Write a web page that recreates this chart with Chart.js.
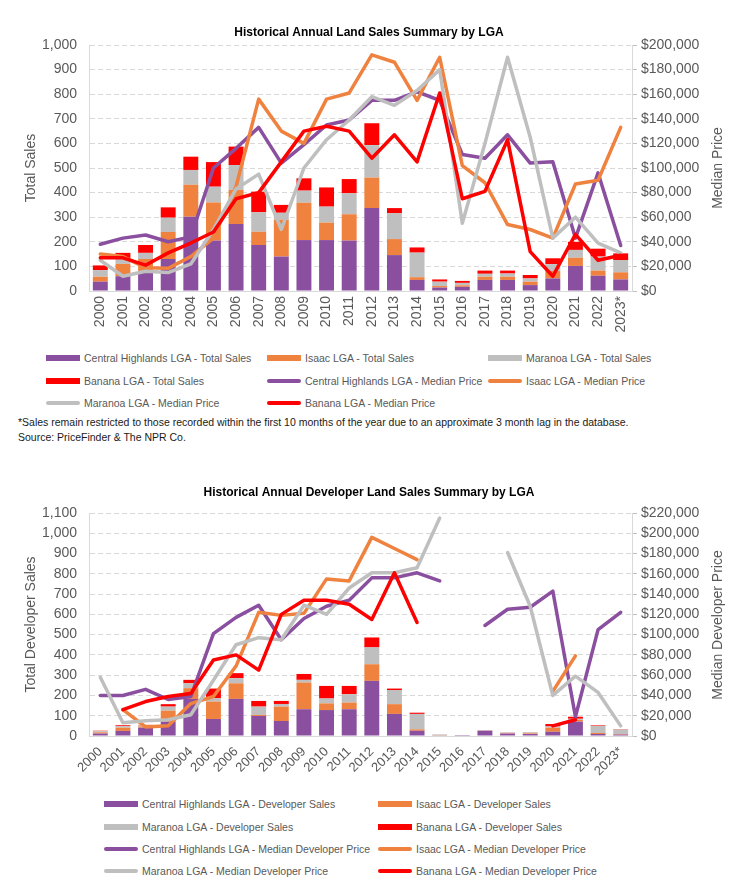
<!DOCTYPE html>
<html>
<head>
<meta charset="utf-8">
<script src="https://cdn.jsdelivr.net/npm/chart.js@4.4.0/dist/chart.umd.min.js"></script>
<style>
  body { margin: 0; background: #fff; width: 738px; height: 877px; position: relative; overflow: hidden;
         font-family: 'Liberation Sans', Arial, sans-serif; color: #595959; }
  canvas { position: absolute; left: 0; }
  .legend-item { position: absolute; font-size: 10.5px; white-space: nowrap; height: 14px; display: flex; align-items: center; }
  .swatch { display: inline-block; width: 34px; margin-right: 4px; }
  .right-title { position: absolute; font-size: 14px; white-space: nowrap; transform: translate(-50%, -50%) rotate(-90deg); }
  .note { position: absolute; left: 18px; font-size: 10.5px; white-space: nowrap; color: #1a1a1a; }
</style>
</head>
<body>
<canvas id="land-chart" width="738" height="345" style="top:0"></canvas>
<canvas id="dev-chart" width="738" height="330" style="top:460px"></canvas>
<div class="note" style="top:416px">*Sales remain restricted to those recorded within the first 10 months of the year due to an approximate 3 month lag in the database.</div>
<div class="note" style="top:431px">Source: PriceFinder &amp; The NPR Co.</div>

<script>
// Years on the x axis (both charts)
const years = ['2000', '2001', '2002', '2003', '2004', '2005', '2006', '2007', '2008', '2009', '2010', '2011',
  '2012', '2013', '2014', '2015', '2016', '2017', '2018', '2019', '2020', '2021', '2022', '2023*'];

// Chart 1 - total land sales (stacked bars)
const chSales      = [38, 60, 80, 130, 302, 205, 272, 187, 140, 207, 207, 205, 337, 146, 45, 14, 17, 45, 45, 24, 51, 102, 62, 47];
const isaacSales   = [20, 50, 50, 110, 130, 155, 139, 54, 150, 152, 71, 107, 124, 65, 11, 6, 6, 13, 13, 14, 30, 33, 21, 29];
const maranoaSales = [27, 20, 25, 58, 60, 64, 101, 79, 28, 49, 65, 85, 132, 105, 100, 18, 10, 12, 13, 13, 28, 32, 57, 50];
const bananaSales  = [19, 25, 32, 42, 54, 100, 75, 84, 32, 50, 78, 58, 89, 21, 21, 9, 8, 13, 12, 14, 24, 33, 32, 27];

// Chart 1 - median price lines
const chPrice      = [38000, 43000, 45500, 40000, 44000, 100000, 116000, 133000, 104000, 119000, 135000, 139000,
  155000, 155000, 162000, 155000, 111000, 108000, 127000, 104000, 105000, 43000, 96000, 37000];
const isaacPrice   = [30000, 28000, 19000, 18400, 28000, 43000, 85000, 156000, 130000, 120000, 156000, 161000,
  192000, 186000, 155000, 190000, 102000, 88000, 54000, 50000, 43000, 87000, 90000, 133000];
const maranoaPrice = [25000, 12000, 16000, 15000, 22000, 50000, 83000, 95000, 50000, 100000, 123000, 139000,
  158000, 151000, 163000, 180000, 55000, 120000, 190000, 125000, 43000, 60000, 39000, 31000];
const bananaPrice  = [27000, 27000, 21000, 31000, 39000, 48000, 75000, 80000, 105000, 130000, 134000, 130000,
  108000, 127000, 105000, 161000, 75000, 81000, 123000, 32000, 12000, 46000, 25000, 29000];

// Chart 2 - developer land sales (stacked bars)
const chDevSales      = [12, 25, 41, 71, 183, 84, 183, 99, 74, 132, 128, 132, 272, 109, 26, 2, 1, 26, 12, 10, 21, 71, 10, 7];
const isaacDevSales   = [6, 16, 6, 54, 53, 86, 77, 5, 71, 132, 33, 33, 82, 48, 7, 1, 0, 1, 2, 3, 20, 8, 5, 3];
const maranoaDevSales = [6, 8, 5, 20, 24, 16, 25, 41, 13, 13, 24, 41, 83, 70, 76, 5, 2, 2, 3, 5, 6, 6, 35, 22];
const bananaDevSales  = [2, 4, 3, 12, 17, 48, 25, 28, 15, 29, 62, 41, 49, 7, 6, 0, 0, 0, 1, 1, 12, 10, 3, 2];

// Chart 2 - median developer price lines (null = no sales that year)
const chDevPrice      = [40000, 40000, 46000, 36000, 39000, 101000, 117000, 129000, 95000, 116000, 128000, 134000,
  156000, 156000, 161000, 153000, null, 109000, 125000, 127000, 143000, 19000, 105000, 122000];
const isaacDevPrice   = [null, 26000, 9000, 10000, 32000, 39000, 69000, 122000, 119000, 121000, 155000, 153000,
  196000, 185000, 174000, null, null, null, null, null, 44000, 79000, null, null];
const maranoaDevPrice = [58000, 13000, 15000, 16000, 21000, 55000, 90000, 97000, 95000, 129000, 120000, 146000,
  161000, 161000, 166000, 215000, null, null, 181000, 128000, 40000, 59000, 43000, 10000];
const bananaDevPrice  = [null, 26000, 34000, 39000, 42000, 75000, 80000, 65000, 120000, 134000, 134000, 130000,
  115000, 161000, 112000, null, null, null, null, null, 10000, 16000, null, null];

const PURPLE = '#8B4F9F';
const ORANGE = '#F0823F';
const GREY = '#BFBFBF';
const RED = '#FF0000';
const FONT = "'Liberation Sans', Arial, sans-serif";
const TEXT = '#595959';

function barSet(label, data, color) {
  return { type: 'bar', label: label, data: data, backgroundColor: color, yAxisID: 'y',
    stack: 'sales', order: 10, categoryPercentage: 1, barPercentage: 0.66 };
}

// lower order = drawn on top, so red ends up last like the original
function lineSet(label, data, color, order) {
  return { type: 'line', label: label, data: data, borderColor: color, backgroundColor: color,
    borderWidth: 3.5, pointRadius: 0, tension: 0, yAxisID: 'y1', order: order,
    borderCapStyle: 'round', borderJoinStyle: 'round', spanGaps: false };
}

function money(v) {
  return '$' + v.toLocaleString('en-US');
}

function makeChart(canvasId, opts) {
  return new Chart(document.getElementById(canvasId), {
    data: { labels: years, datasets: opts.datasets },
    options: {
      responsive: false,
      animation: false,
      layout: { padding: 0 },
      plugins: {
        legend: { display: false },
        tooltip: { enabled: false },
        title: {
          display: true,
          text: opts.title,
          color: '#000',
          font: { family: FONT, size: 12, weight: 'bold' },
          padding: opts.titlePadding
        }
      },
      scales: {
        x: {
          stacked: true,
          grid: { display: false, drawTicks: false },
          border: { color: '#D9D9D9' },
          ticks: {
            color: TEXT, font: { family: FONT, size: opts.xFontSize },
            minRotation: opts.rotation, maxRotation: opts.rotation,
            autoSkip: false, padding: opts.xPadding
          },
          afterFit: (scale) => { scale.height = opts.xHeight; }
        },
        y: {
          stacked: true,
          position: 'left',
          min: 0, max: opts.yMax,
          ticks: {
            stepSize: 100, color: TEXT, font: { family: FONT, size: 14 }, padding: 12,
            callback: (v) => v.toLocaleString('en-US')
          },
          grid: { color: '#D9D9D9', drawTicks: false },
          border: { color: '#D9D9D9', dash: [5, 3] },
          title: {
            display: true, text: opts.yTitle, color: TEXT,
            font: { family: FONT, size: 14 }, padding: { top: 22.6, bottom: 0 }
          },
          afterFit: (scale) => { scale.width = 89; }
        },
        y1: {
          position: 'right',
          min: 0, max: opts.y1Max,
          ticks: {
            stepSize: 20000, color: TEXT, font: { family: FONT, size: 14 }, padding: 4,
            callback: (v) => money(v)
          },
          grid: { drawOnChartArea: false, tickLength: 5, tickColor: '#BFBFBF' },
          border: { color: '#D9D9D9' },
          afterFit: (scale) => { scale.width = 106; }
        }
      }
    }
  });
}

const landChart = makeChart('land-chart', {
  title: 'Historical Annual Land Sales Summary by LGA',
  titlePadding: { top: 25, bottom: 5.6 },
  yTitle: 'Total Sales',
  yMax: 1000,
  y1Max: 200000,
  rotation: 90,
  xFontSize: 14,
  xPadding: 5,
  xHeight: 54,
  datasets: [
    barSet('Central Highlands LGA - Total Sales', chSales, PURPLE),
    barSet('Isaac LGA - Total Sales', isaacSales, ORANGE),
    barSet('Maranoa LGA - Total Sales', maranoaSales, GREY),
    barSet('Banana LGA - Total Sales', bananaSales, RED),
    lineSet('Central Highlands LGA - Median Price', chPrice, PURPLE, 4),
    lineSet('Isaac LGA - Median Price', isaacPrice, ORANGE, 3),
    lineSet('Maranoa LGA - Median Price', maranoaPrice, GREY, 2),
    lineSet('Banana LGA - Median Price', bananaPrice, RED, 1)
  ]
});

const devChart = makeChart('dev-chart', {
  title: 'Historical Annual Developer Land Sales Summary by LGA',
  titlePadding: { top: 25.8, bottom: 12.8 },
  yTitle: 'Total Developer Sales',
  yMax: 1100,
  y1Max: 220000,
  rotation: 45,
  xFontSize: 13,
  xPadding: 8,
  xHeight: 54,
  datasets: [
    barSet('Central Highlands LGA - Developer Sales', chDevSales, PURPLE),
    barSet('Isaac LGA - Developer Sales', isaacDevSales, ORANGE),
    barSet('Maranoa LGA - Developer Sales', maranoaDevSales, GREY),
    barSet('Banana LGA - Developer Sales', bananaDevSales, RED),
    lineSet('Central Highlands LGA - Median Developer Price', chDevPrice, PURPLE, 4),
    lineSet('Isaac LGA - Median Developer Price', isaacDevPrice, ORANGE, 3),
    lineSet('Maranoa LGA - Median Developer Price', maranoaDevPrice, GREY, 2),
    lineSet('Banana LGA - Median Developer Price', bananaDevPrice, RED, 1)
  ]
});

// HTML legend built from the chart's datasets, laid out in a grid like the original
function buildLegend(chart, columns, rows) {
  chart.data.datasets.forEach((ds, i) => {
    const item = document.createElement('div');
    item.className = 'legend-item';
    item.style.left = columns[i % columns.length] + 'px';
    item.style.top = (rows[Math.floor(i / columns.length)] - 7) + 'px';
    const sw = document.createElement('span');
    sw.className = 'swatch';
    sw.style.background = ds.type === 'bar' ? ds.backgroundColor : ds.borderColor;
    if (ds.type === 'bar') {
      sw.style.height = '6px';
    } else {
      sw.style.height = '4px';
      sw.style.borderRadius = '2px';
    }
    item.appendChild(sw);
    item.appendChild(document.createTextNode(ds.label));
    document.body.appendChild(item);
  });
}

buildLegend(landChart, [46, 267, 488], [358, 381, 403]);
buildLegend(devChart, [104, 378], [804, 827, 849, 871]);

// right-hand axis titles read bottom to top, as in the original
function rightTitle(text, x, y) {
  const el = document.createElement('div');
  el.className = 'right-title';
  el.textContent = text;
  el.style.left = x + 'px';
  el.style.top = y + 'px';
  document.body.appendChild(el);
}
rightTitle('Median Price', 717, (landChart.chartArea.top + landChart.chartArea.bottom) / 2);
rightTitle('Median Developer Price', 717, 460 + (devChart.chartArea.top + devChart.chartArea.bottom) / 2);
</script>
</body>
</html>
